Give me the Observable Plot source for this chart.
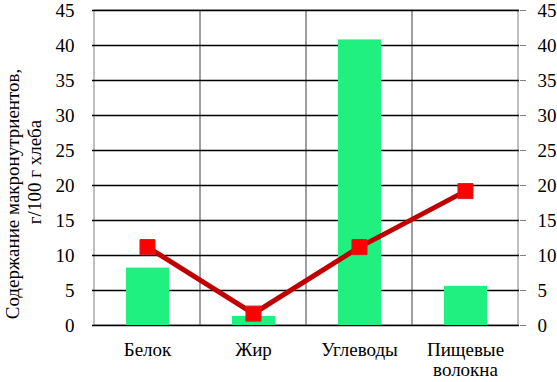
<!DOCTYPE html>
<html>
<head>
<meta charset="utf-8">
<script src="https://cdn.jsdelivr.net/npm/d3@7"></script>
<script src="https://cdn.jsdelivr.net/npm/@observablehq/plot@0.6"></script>
<style>
  html, body { margin: 0; padding: 0; background: #fff; }
  #chart svg { display: block; }
</style>
</head>
<body>
<div id="chart"></div>
<script>
const categories = ["Белок", "Жир", "Углеводы", "Пищевые волокна"];
const categoryLabels = ["Белок", "Жир", "Углеводы", "Пищевые\nволокна"];
const barValues = [8.2, 1.3, 40.8, 5.6];
const lineValues = [11.2, 1.7, 11.2, 19.2];
const yTicks = [0, 5, 10, 15, 20, 25, 30, 35, 40, 45];
const yTitleLines = ["Содержание макронутриентов,", "г/100 г хлеба"];

const bars = categories.map((c, i) => ({category: c, value: barValues[i]}));
const points = categories.map((c, i) => ({category: c, value: lineValues[i]}));
const labelOf = new Map(categories.map((c, i) => [c, categoryLabels[i]]));

const font = "Liberation Serif, Times New Roman, DejaVu Serif, serif";

const chart = Plot.plot({
  width: 557,
  height: 382,
  marginLeft: 92,
  marginRight: 38,
  marginTop: 10,
  marginBottom: 57,
  style: {fontFamily: font, fontSize: "19px", color: "#000", background: "#fff"},
  x: {type: "band", domain: categories, padding: 0, label: null},
  y: {domain: [0, 45], label: null},
  marks: [
    Plot.barY(categories, {x: d => d, y1: 0, y2: 45, fill: "none", stroke: "#808080", strokeWidth: 1}),
    Plot.ruleY(yTicks, {stroke: "#000", strokeWidth: 1.3}),
    Plot.barY(bars, {x: "category", y: "value", fill: "#20f080", insetLeft: 32, insetRight: 31}),
    Plot.line(points, {x: "category", y: "value", stroke: "#c00000", strokeWidth: 5}),
    Plot.dot(points, {x: "category", y: "value", symbol: "square", r: 8.5, fill: "#ff0000", stroke: "#d02020", strokeWidth: 1}),
    Plot.axisY(yTicks, {anchor: "left", tickSize: 0, tickPadding: 18, fontSize: 19, label: null, tickFormat: d => String(d)}),
    Plot.axisY(yTicks, {anchor: "right", tickSize: 6, tickPadding: 12, stroke: "#808080", fontSize: 19, label: null, tickFormat: d => String(d)}),
    Plot.axisX({tickSize: 0, tickPadding: 16, fontSize: 19, label: null, tickFormat: d => labelOf.get(d), lineHeight: 1.05})
  ]
});

// rotated y-axis title (two lines)
const svg = d3.select(chart);
const titlePos = [{x: 12, y: 194}, {x: 34, y: 172}];
yTitleLines.forEach((t, i) => {
  svg.append("text")
    .attr("transform", `translate(${titlePos[i].x},${titlePos[i].y}) rotate(-90)`)
    .attr("text-anchor", "middle")
    .attr("dy", "0.35em")
    .attr("font-family", font)
    .attr("font-size", 19)
    .attr("fill", "#000")
    .text(t);
});

document.getElementById("chart").appendChild(chart);
</script>
</body>
</html>
